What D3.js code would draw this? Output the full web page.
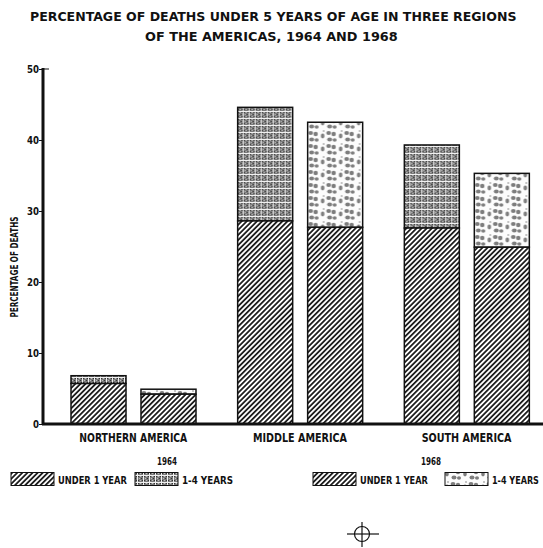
<!DOCTYPE html>
<html lang="en">
<head>
<meta charset="UTF-8">
<title>Deaths under 5</title>
<script src="https://cdn.jsdelivr.net/npm/d3@7"></script>
<style>
  body { margin: 0; background: #fff; }
  text { font-family: "DejaVu Sans Condensed", "DejaVu Sans", sans-serif; font-weight: bold; fill: #111; }
</style>
</head>
<body>
<script>
    // data
    const regions = ['NORTHERN AMERICA', 'MIDDLE AMERICA', 'SOUTH AMERICA'];
    const years = ['1964', '1968'];
    const under1_1964 = [5.7, 28.6, 27.6];
    const under1_1968 = [4.2, 27.7, 24.9];
    const age1to4_1964 = [1.1, 16.0, 11.7];
    const age1to4_1968 = [0.7, 14.8, 10.4];
    const yTicks = [0, 10, 20, 30, 40, 50];

    const W = 543, H = 548;
    const svg = d3.select('body').append('svg').attr('width', W).attr('height', H);
    const defs = svg.append('defs');

    // squeeze a text horizontally so it spans the given width (condensed look)
    function fit(sel, x, yy, width) {
        const w = sel.node().getComputedTextLength();
        sel.attr('x', 0).attr('y', 0)
           .attr('transform', 'translate(' + x + ',' + yy + ') scale(' + (width / w) + ',1)');
        return sel;
    }

    // diagonal hatch (under 1 year)
    const hatch = defs.append('pattern').attr('id', 'hatch')
        .attr('patternUnits', 'userSpaceOnUse').attr('width', 3.6).attr('height', 3.6)
        .attr('patternTransform', 'rotate(45)');
    hatch.append('rect').attr('width', 3.6).attr('height', 3.6).attr('fill', '#fff');
    hatch.append('line').attr('x1', 0.9).attr('y1', 0).attr('x2', 0.9).attr('y2', 3.6)
        .attr('stroke', '#111').attr('stroke-width', 1.7);

    // grey grid (1-4 years, 1964)
    const grid = defs.append('pattern').attr('id', 'grid')
        .attr('patternUnits', 'userSpaceOnUse').attr('width', 6).attr('height', 7);
    grid.append('rect').attr('width', 6).attr('height', 7).attr('fill', '#7a7a7a');
    for (let i = 0; i < 3; i++) {
        for (let j = 0; j < 3; j++) {
            grid.append('rect').attr('x', i * 2 + (j % 2)).attr('y', j * 2).attr('width', 1).attr('height', 1).attr('fill', (i + j) % 2 ? '#bdbdbd' : '#333');
        }
    }
    grid.append('rect').attr('x', 0).attr('y', 6).attr('width', 6).attr('height', 1).attr('fill', '#f0f0f0');
    grid.append('rect').attr('x', 5).attr('y', 0).attr('width', 1).attr('height', 7).attr('fill', '#f0f0f0');

    // stipple (1-4 years, 1968)
    const stip = defs.append('pattern').attr('id', 'stip')
        .attr('patternUnits', 'userSpaceOnUse').attr('width', 18).attr('height', 13);
    stip.append('rect').attr('width', 18).attr('height', 13).attr('fill', '#fcfcfc');
    [[3, 3, 2.4, 2], [8, 4, 2.2, 2.2], [4, 9.5, 2.5, 2], [9, 10, 2, 1.8], [15, 6, 1.8, 2.4], [16, 1, 0.8, 0.8]].forEach(b => {
        stip.append('ellipse').attr('cx', b[0]).attr('cy', b[1]).attr('rx', b[2]).attr('ry', b[3]).attr('fill', '#7d7d7d');
    });

    const fills = { under1: 'url(#hatch)', '1964': 'url(#grid)', '1968': 'url(#stip)' };

    // scales
    const x0 = d3.scaleBand().domain(regions).range([50, 550]);
    const x1 = d3.scaleBand().domain(years).range([21, 146]).paddingInner(0.214);
    const y = d3.scaleLinear().domain([0, 50]).range([424, 69]);

    const rows = [];
    regions.forEach((r, i) => {
        rows.push({ region: r, year: '1964', under1: under1_1964[i], older: age1to4_1964[i] });
        rows.push({ region: r, year: '1968', under1: under1_1968[i], older: age1to4_1968[i] });
    });

    const bars = svg.append('g').selectAll('g').data(rows).enter().append('g')
        .attr('transform', d => 'translate(' + (x0(d.region) + x1(d.year)) + ',0)');
    bars.append('rect')
        .attr('x', 0).attr('width', x1.bandwidth())
        .attr('y', d => y(d.under1 + d.older))
        .attr('height', d => y(d.under1) - y(d.under1 + d.older))
        .attr('fill', d => fills[d.year])
        .attr('stroke', '#111').attr('stroke-width', 1.5);
    bars.append('rect')
        .attr('x', 0).attr('width', x1.bandwidth())
        .attr('y', d => y(d.under1))
        .attr('height', d => y(0) - y(d.under1))
        .attr('fill', fills.under1)
        .attr('stroke', '#111').attr('stroke-width', 1.5);

    // y axis
    const yAxis = svg.append('g').attr('transform', 'translate(43,0)')
        .call(d3.axisLeft(y).tickValues(yTicks).tickSize(4).tickPadding(0));
    yAxis.select('.domain').remove();
    yAxis.selectAll('line').attr('stroke', '#111').attr('stroke-width', 1);
    yAxis.selectAll('text').attr('font-size', 11).attr('dy', '0.36em')
        .style('font-family', '"DejaVu Sans Condensed", "DejaVu Sans", sans-serif').style('font-weight', 'bold')
        .attr('textLength', d => d === 0 ? 6 : 12).attr('lengthAdjust', 'spacingAndGlyphs');
    svg.append('line').attr('x1', 43).attr('x2', 43).attr('y1', y(50) - 1).attr('y2', y(0) + 1)
        .attr('stroke', '#111').attr('stroke-width', 3);
    svg.append('line').attr('x1', 43).attr('x2', 49).attr('y1', y(50)).attr('y2', y(50))
        .attr('stroke', '#111').attr('stroke-width', 1);
    svg.append('line').attr('x1', 42).attr('x2', W).attr('y1', y(0)).attr('y2', y(0))
        .attr('stroke', '#111').attr('stroke-width', 3);

    svg.append('text').attr('transform', 'translate(17.5,' + 267 + ') rotate(-90)')
        .attr('text-anchor', 'middle').attr('font-size', 10)
        .attr('textLength', 101).attr('lengthAdjust', 'spacingAndGlyphs')
        .text('PERCENTAGE OF DEATHS');

    // region labels
    const labelWidth = [108, 94, 90];
    regions.forEach((r, i) => {
        const t = svg.append('text').attr('font-size', 11.5).text(r);
        fit(t, x0(r) + x0.bandwidth() / 2 - labelWidth[i] / 2, 442, labelWidth[i]);
    });

    // title
    const title = ['PERCENTAGE OF DEATHS UNDER 5 YEARS OF AGE IN THREE REGIONS', 'OF THE AMERICAS, 1964 AND 1968'];
    const titleX = [30, 145], titleW = [487, 253];
    title.forEach((s, i) => {
        const t = svg.append('text').attr('font-size', 13).text(s);
        fit(t, titleX[i], 21 + i * 19.5, titleW[i]);
    });

    // legends
    const legends = [
        { year: '1964', yx: 167, items: [[11, 'under1', 'UNDER 1 YEAR', 69], [135, '1964', '1-4 YEARS', 51]] },
        { year: '1968', yx: 431, items: [[313, 'under1', 'UNDER 1 YEAR', 68], [445, '1968', '1-4 YEARS', 47]] }
    ];
    legends.forEach(l => {
        fit(svg.append('text').attr('font-size', 11).text(l.year), l.yx - 10, 465, 20);
        l.items.forEach(it => {
            svg.append('rect').attr('x', it[0]).attr('y', 472.5).attr('width', 43).attr('height', 13)
                .attr('fill', fills[it[1]]).attr('stroke', '#111').attr('stroke-width', 1);
            fit(svg.append('text').attr('font-size', 11).text(it[2]), it[0] + 47, 484, it[3]);
        });
    });

    // registration mark
    const reg = svg.append('g').attr('stroke', '#111').attr('stroke-width', 1.2).attr('fill', 'none');
    reg.append('circle').attr('cx', 362).attr('cy', 534).attr('r', 7.5);
    reg.append('line').attr('x1', 347).attr('x2', 379).attr('y1', 534).attr('y2', 534);
    reg.append('line').attr('x1', 362).attr('x2', 362).attr('y1', 522).attr('y2', 547);
</script>
</body>
</html>
